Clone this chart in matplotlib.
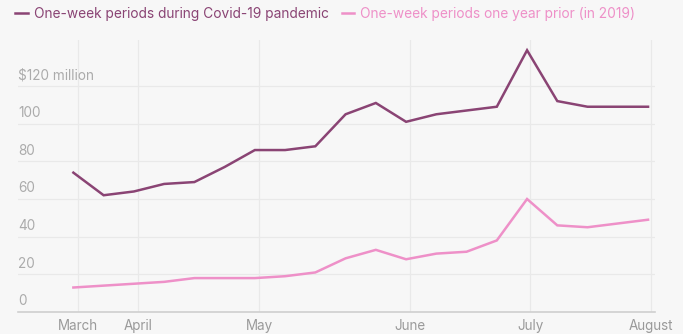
import matplotlib
matplotlib.use("Agg")
import matplotlib.pyplot as plt
import matplotlib.transforms as mtransforms

plt.rcParams['font.family'] = ['Inter', 'DejaVu Sans']

# weekly values, $ million
covid_2020 = [74, 62, 64, 68, 69, 77, 86, 86, 88, 105, 111, 101, 105, 107, 109, 139, 112, 109, 109, 109]
prior_2019 = [13, 14, 15, 16, 18, 18, 18, 19, 21, 28.5, 33, 28, 31, 32, 38, 60, 46, 45, 47, 49]
weeks = list(range(len(covid_2020)))

month_labels = ["March", "April", "May", "June", "July", "August"]
month_pos = [0.15, 2.15, 6.15, 11.13, 15.1, 19.1]

y_ticks = [0, 20, 40, 60, 80, 100, 120]
y_labels = ["0", "20", "40", "60", "80", "100", "$120 million"]

dark = "#8a4474"
pink = "#ee90c8"
bg = "#f7f7f7"

fig = plt.figure(figsize=(6.83, 3.34), dpi=100, facecolor=bg)
ax = fig.add_axes([0.0264, 0.0659, 0.9326, 0.8141], facecolor=bg)

l1, = ax.plot(weeks, covid_2020, color=dark, lw=1.8, solid_joinstyle="miter",
              label="One-week periods during Covid-19 pandemic", zorder=3)
l2, = ax.plot(weeks, prior_2019, color=pink, lw=1.8, solid_joinstyle="miter",
              label="One-week periods one year prior (in 2019)", zorder=3)

ax.set_xlim(-1.83, 19.23)
ax.set_ylim(0, 144.4)

for s in ["top", "right", "left"]:
    ax.spines[s].set_visible(False)
ax.spines["bottom"].set_color("#cfcfcf")
ax.spines["bottom"].set_linewidth(1.2)

# horizontal grid
for v in y_ticks[1:]:
    ax.axhline(v, color="#e9e9e9", lw=0.9, zorder=1)
# vertical month grid
for p in month_pos:
    ax.axvline(p, color="#e9e9e9", lw=0.9, zorder=1)

ax.set_yticks([])
ax.set_xticks(month_pos)
ax.set_xticklabels(month_labels, color="#9a9a9a", fontsize=9.7)
ax.tick_params(axis="x", length=0, pad=5)

trans = mtransforms.blended_transform_factory(ax.transAxes, ax.transData)
for v, lab in zip(y_ticks, y_labels):
    ax.text(0.0, v + 2.0, lab, transform=trans, ha="left", va="bottom",
            color="#ababab", fontsize=9.8)

leg = fig.legend(handles=[l1, l2], loc="upper left", bbox_to_anchor=(0.012, 1.0),
                 ncol=2, frameon=False, handlelength=0.9, handletextpad=0.45,
                 columnspacing=0.95, fontsize=9.9, labelcolor="linecolor",
                 borderaxespad=0.12)

fig.savefig("out.png", dpi=100, facecolor=bg)
